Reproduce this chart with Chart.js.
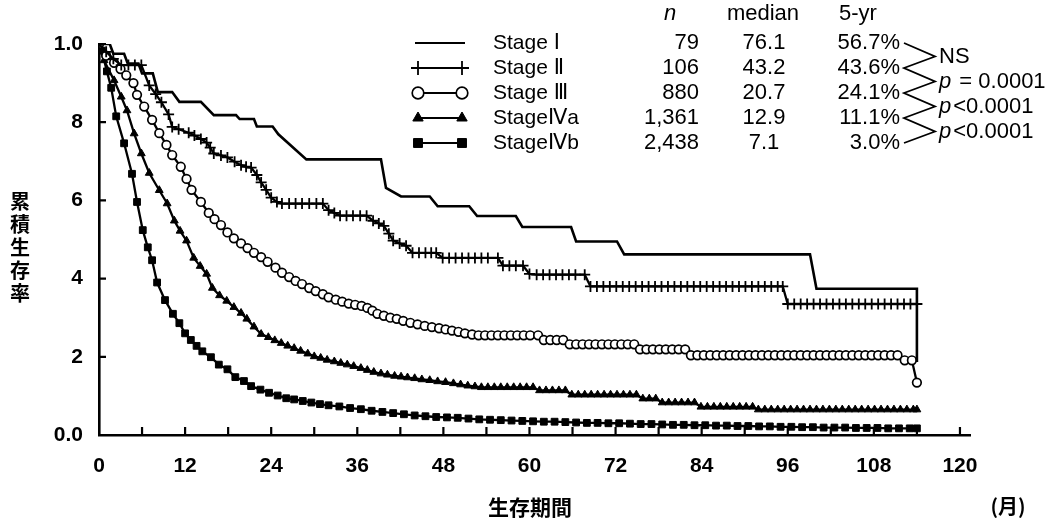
<!DOCTYPE html>
<html>
<head>
<meta charset="utf-8">
<script src="https://cdn.jsdelivr.net/npm/chart.js@4.4.1/dist/chart.umd.min.js"></script>
<style>
  html, body { margin: 0; padding: 0; background: #fff; }
</style>
</head>
<body>
<canvas id="km" width="1062" height="520"></canvas>
<script>
// survival curves: [month, cumulative survival]
const stage1 = [
  [0, 1], [1.5, 1], [2, 0.975], [3.5, 0.975], [4, 0.95], [5.5, 0.95], [6, 0.925], [7.5, 0.925],
  [8.2, 0.877], [10.2, 0.877], [11.2, 0.852], [14.2, 0.852], [16, 0.818], [19.1, 0.818],
  [19.6, 0.808], [21.6, 0.808], [22, 0.789], [24.2, 0.789], [25, 0.769], [28.9, 0.705],
  [39.3, 0.705], [40, 0.632], [42.1, 0.61], [46.1, 0.61], [47.2, 0.585], [51.6, 0.585],
  [52.7, 0.56], [58.1, 0.56], [59, 0.532], [65.8, 0.532], [66.5, 0.495], [72.2, 0.495],
  [73.2, 0.462], [99.1, 0.462], [100, 0.374], [114, 0.374], [114, 0.187]
];

const stage2 = [
  [0, 1], [1, 0.98], [2, 0.962], [3.1, 0.946], [4.1, 0.946], [5, 0.946], [5.9, 0.946],
  [7, 0.894], [7.9, 0.872], [8.7, 0.851], [9.7, 0.82], [10.2, 0.788], [11.1, 0.782],
  [12.5, 0.773], [13.3, 0.766], [14.2, 0.757], [15, 0.748], [15.5, 0.735], [16, 0.72],
  [17, 0.715], [17.9, 0.71], [18.9, 0.699], [19.8, 0.69], [20.5, 0.686], [21.2, 0.684],
  [22, 0.665], [22.6, 0.646], [23.3, 0.627], [24, 0.607], [24.8, 0.596], [25.5, 0.592],
  [26.5, 0.592], [27.4, 0.592], [28.3, 0.592], [29.3, 0.592], [30.3, 0.592], [31.2, 0.592],
  [32, 0.575], [32.8, 0.568], [33.6, 0.561], [34.5, 0.561], [35.4, 0.561], [36.4, 0.561],
  [37.3, 0.561], [38.2, 0.548], [39, 0.541], [39.7, 0.535], [40.4, 0.515], [41, 0.497],
  [41.9, 0.49], [42.8, 0.484], [43.7, 0.466], [44.6, 0.466], [45.5, 0.466], [46.3, 0.466],
  [47, 0.466], [47.9, 0.453], [48.8, 0.453], [49.7, 0.453], [50.6, 0.453], [51.5, 0.453],
  [52.4, 0.453], [53.3, 0.453], [54.2, 0.453], [55.6, 0.453], [56.3, 0.433], [57.2, 0.433],
  [58.1, 0.433], [59.1, 0.433], [60, 0.412], [61, 0.41], [61.9, 0.41], [62.8, 0.41],
  [63.7, 0.41], [64.6, 0.41], [65.5, 0.41], [66.4, 0.41], [67.7, 0.41], [68.5, 0.38],
  [69.4, 0.38], [70.3, 0.38], [71.2, 0.38], [72.1, 0.38], [73, 0.38], [73.9, 0.38],
  [74.8, 0.38], [75.7, 0.38], [76.6, 0.38], [77.5, 0.38], [78.4, 0.38], [79.3, 0.38],
  [80.2, 0.38], [81.1, 0.38], [82, 0.38], [82.9, 0.38], [83.8, 0.38], [84.7, 0.38],
  [85.6, 0.38], [86.5, 0.38], [87.4, 0.38], [88.3, 0.38], [89.2, 0.38], [90.1, 0.38],
  [91, 0.38], [91.9, 0.38], [92.8, 0.38], [93.7, 0.38], [94.6, 0.38], [95.3, 0.38],
  [96, 0.335], [96.9, 0.335], [97.8, 0.335], [98.7, 0.335], [99.6, 0.335], [100.5, 0.335],
  [101.4, 0.335], [102.3, 0.335], [103.2, 0.335], [104.1, 0.335], [105, 0.335], [105.9, 0.335],
  [106.8, 0.335], [107.7, 0.335], [108.6, 0.335], [109.5, 0.335], [110.4, 0.335], [111.3, 0.335],
  [112.2, 0.335], [113.1, 0.335], [114, 0.335]
];

const stage3 = [
  [0, 1], [1, 0.97], [2.1, 0.952], [3, 0.936], [3.8, 0.92], [4.8, 0.9], [5.3, 0.87], [6.3, 0.84],
  [7.4, 0.806], [8.4, 0.772], [9.4, 0.742], [10.2, 0.716], [11.4, 0.686], [12.2, 0.655],
  [12.9, 0.627], [14.2, 0.596], [15.3, 0.568], [16.1, 0.552], [17, 0.537], [17.9, 0.518],
  [18.8, 0.503], [19.8, 0.49], [20.7, 0.478], [21.6, 0.466], [22.6, 0.455], [23.5, 0.443],
  [24.6, 0.428], [25.5, 0.415], [26.5, 0.404], [27.4, 0.394], [28.3, 0.386], [29.3, 0.376],
  [30.2, 0.368], [31.2, 0.36], [32, 0.352], [33, 0.346], [33.9, 0.341], [34.8, 0.336],
  [35.7, 0.333], [36.6, 0.33], [37.4, 0.325], [38.1, 0.318], [38.8, 0.31], [39.7, 0.305],
  [40.6, 0.3], [41.5, 0.297], [42.4, 0.292], [43.4, 0.287], [44.4, 0.283], [45.4, 0.279],
  [46.4, 0.276], [47.4, 0.273], [48.3, 0.27], [49.2, 0.267], [50.1, 0.264], [51, 0.26],
  [52, 0.257], [52.9, 0.255], [53.8, 0.255], [54.7, 0.255], [55.6, 0.255], [56.5, 0.255],
  [57.4, 0.255], [58.3, 0.255], [59.2, 0.255], [60.1, 0.255], [61.2, 0.255], [62, 0.243],
  [62.9, 0.243], [63.8, 0.243], [64.7, 0.243], [65.6, 0.232], [66.5, 0.232], [67.4, 0.232],
  [68.3, 0.232], [69.2, 0.232], [70.1, 0.232], [71, 0.232], [71.9, 0.232], [72.8, 0.232],
  [73.7, 0.232], [74.6, 0.232], [75.4, 0.219], [76.3, 0.219], [77.2, 0.219], [78.1, 0.219],
  [79, 0.219], [79.9, 0.219], [80.8, 0.219], [81.7, 0.219], [82.5, 0.204], [83.4, 0.204],
  [84.3, 0.204], [85.2, 0.204], [86.1, 0.204], [87, 0.204], [87.9, 0.204], [88.8, 0.204],
  [89.7, 0.204], [90.6, 0.204], [91.5, 0.204], [92.4, 0.204], [93.3, 0.204], [94.2, 0.204],
  [95.1, 0.204], [96, 0.204], [96.9, 0.204], [97.8, 0.204], [98.7, 0.204], [99.6, 0.204],
  [100.5, 0.204], [101.4, 0.204], [102.3, 0.204], [103.2, 0.204], [104.1, 0.204], [105, 0.204],
  [105.9, 0.204], [106.8, 0.204], [107.7, 0.204], [108.6, 0.204], [109.5, 0.204], [110.4, 0.204],
  [111.3, 0.204], [112.3, 0.191], [113.3, 0.191], [114, 0.134]
];

const stage4a = [
  [0, 1], [0.7, 0.958], [2.1, 0.907], [3.1, 0.865], [3.9, 0.83], [4.9, 0.771], [5.9, 0.72],
  [7, 0.67], [8.4, 0.626], [9.5, 0.592], [10.5, 0.548], [11.3, 0.522], [12.2, 0.497],
  [13.2, 0.453], [14.1, 0.432], [15, 0.412], [15.8, 0.376], [16.8, 0.357], [17.8, 0.343],
  [18.8, 0.327], [19.8, 0.312], [20.6, 0.297], [21.6, 0.277], [22.6, 0.258], [23.6, 0.25],
  [24.5, 0.242], [25.4, 0.235], [26.3, 0.228], [27.2, 0.222], [28.1, 0.215], [29.1, 0.208],
  [30, 0.201], [30.9, 0.197], [31.8, 0.192], [32.8, 0.188], [33.7, 0.184], [34.6, 0.18],
  [35.5, 0.176], [36.5, 0.171], [37.4, 0.166], [38.3, 0.161], [39.3, 0.157], [40.2, 0.154],
  [41.2, 0.151], [42.1, 0.149], [43, 0.147], [44, 0.145], [45, 0.142], [46.1, 0.14],
  [47.2, 0.137], [48.3, 0.135], [49.4, 0.132], [50.4, 0.129], [51.4, 0.126], [52.4, 0.124],
  [53.3, 0.122], [54.2, 0.122], [55.1, 0.122], [56, 0.122], [56.9, 0.122], [57.8, 0.122],
  [58.7, 0.122], [59.6, 0.122], [60.5, 0.122], [61.4, 0.114], [62.3, 0.114], [63.2, 0.114],
  [64.1, 0.114], [65, 0.114], [65.9, 0.103], [66.8, 0.103], [67.7, 0.103], [68.6, 0.103],
  [69.5, 0.103], [70.4, 0.103], [71.3, 0.103], [72.2, 0.103], [73.1, 0.103], [74, 0.103],
  [74.9, 0.103], [75.8, 0.093], [76.7, 0.093], [77.6, 0.093], [78.5, 0.083], [79.4, 0.083],
  [80.3, 0.083], [81.2, 0.083], [82.1, 0.083], [83, 0.083], [83.9, 0.072], [84.8, 0.072],
  [85.7, 0.072], [86.6, 0.072], [87.5, 0.072], [88.4, 0.072], [89.3, 0.072], [90.2, 0.072],
  [91.1, 0.072], [91.9, 0.065], [92.8, 0.065], [93.7, 0.065], [94.6, 0.065], [95.5, 0.065],
  [96.4, 0.065], [97.3, 0.065], [98.2, 0.065], [99.1, 0.065], [100, 0.065], [100.9, 0.065],
  [101.8, 0.065], [102.7, 0.065], [103.6, 0.065], [104.5, 0.065], [105.4, 0.065], [106.3, 0.065],
  [107.2, 0.065], [108.1, 0.065], [109, 0.065], [109.9, 0.065], [110.8, 0.065], [111.7, 0.065],
  [112.6, 0.065], [113.5, 0.065], [114, 0.065]
];

const stage4b = [
  [0, 1], [0.4, 0.983], [1.1, 0.93], [1.7, 0.888], [2.4, 0.815], [3.5, 0.746], [4.6, 0.668],
  [5.3, 0.596], [6.1, 0.524], [6.8, 0.48], [7.4, 0.447], [8.1, 0.39], [9.2, 0.345], [10.3, 0.31],
  [11.2, 0.286], [12, 0.26], [12.8, 0.243], [13.6, 0.228], [14.4, 0.214], [15.6, 0.199],
  [16.7, 0.18], [17.9, 0.168], [19, 0.148], [20.2, 0.138], [21.2, 0.125], [22.5, 0.116],
  [23.7, 0.108], [24.9, 0.101], [26.1, 0.094], [27.2, 0.091], [28.4, 0.087], [29.6, 0.083],
  [30.8, 0.079], [32, 0.076], [33.5, 0.073], [35, 0.069], [36.5, 0.066], [38, 0.062],
  [39.5, 0.059], [41, 0.056], [42.5, 0.053], [44, 0.05], [45.5, 0.048], [47, 0.046],
  [48.5, 0.045], [50, 0.044], [51.5, 0.042], [53, 0.04], [54.5, 0.039], [56, 0.038],
  [57.5, 0.037], [59, 0.036], [60.5, 0.035], [62, 0.034], [63.5, 0.034], [65, 0.033],
  [66.5, 0.032], [68, 0.031], [69.5, 0.031], [71, 0.03], [72.5, 0.03], [74, 0.029],
  [75.5, 0.028], [77, 0.028], [78.5, 0.027], [80, 0.026], [81.5, 0.026], [83, 0.025],
  [84.5, 0.025], [86, 0.024], [87.5, 0.024], [89, 0.023], [90.5, 0.023], [92, 0.022],
  [93.5, 0.022], [95, 0.021], [96.5, 0.021], [98, 0.02], [99.5, 0.02], [101, 0.019],
  [102.5, 0.019], [104, 0.019], [105.5, 0.018], [107, 0.018], [108.5, 0.018], [110, 0.017],
  [111.5, 0.017], [113, 0.017], [114, 0.017]
];

// legend table
const stageLabels = ['Stage Ⅰ', 'Stage Ⅱ', 'Stage Ⅲ', 'StageⅣa', 'StageⅣb'];
const nValues = ['79', '106', '880', '1,361', '2,438'];
const medians = ['76.1', '43.2', '20.7', '12.9', '7.1'];
const fiveYear = ['56.7%', '43.6%', '24.1%', '11.1%', '3.0%'];
const pLabels = [['', 'NS'], ['p', ' = 0.0001'], ['p', '<0.0001'], ['p', '<0.0001']];

// axis ticks
const xTickValues = [0, 12, 24, 36, 48, 60, 72, 84, 96, 108, 120];
const xMinorStep = 6;
const xMax = 121.4;

const markerStyles = [
  { pointStyle: 'circle', radius: 0, borderWidth: 0, fill: '#000' },
  { pointStyle: 'cross', radius: 5.5, borderWidth: 1.8, fill: '#000' },
  { pointStyle: 'circle', radius: 4.3, borderWidth: 1.7, fill: '#fff' },
  { pointStyle: 'triangle', radius: 4.5, borderWidth: 1, fill: '#000' },
  { pointStyle: 'rect', radius: 4.8, borderWidth: 1, fill: '#000' }
];

const seriesData = [stage1, stage2, stage3, stage4a, stage4b];

const textFont = "'Liberation Sans', 'DejaVu Sans', 'Noto Sans CJK JP', sans-serif";
const cjkFont = "'Noto Sans CJK JP', sans-serif";

const kmDecor = {
  id: 'kmDecor',
  afterDraw(chart) {
    const { ctx, chartArea, scales: { x, y } } = chart;
    const drawPoint = Chart.helpers.drawPoint;
    ctx.save();
    ctx.strokeStyle = '#000';
    ctx.fillStyle = '#000';

    // inward tick marks
    ctx.lineWidth = 2.2;
    ctx.beginPath();
    for (let m = xMinorStep; m <= 120; m += xMinorStep) {
      const px = x.getPixelForValue(m);
      ctx.moveTo(px, chartArea.bottom);
      ctx.lineTo(px, chartArea.bottom - 8);
    }
    y.ticks.forEach((t) => {
      if (t.value <= 0) return;
      const py = y.getPixelForValue(t.value);
      ctx.moveTo(chartArea.left, py);
      ctx.lineTo(chartArea.left + 7, py);
    });
    ctx.stroke();

    // axis titles
    ctx.font = 'bold 20px ' + cjkFont;
    ctx.textAlign = 'center';
    ctx.textBaseline = 'middle';
    Array.from('累積生存率').forEach((ch, i) => ctx.fillText(ch, 20, 201 + i * 23));
    ctx.font = 'bold 21px ' + cjkFont;
    ctx.fillText('生存期間', 530, 507);
    ctx.font = 'bold 20px ' + cjkFont;
    ctx.fillText('(月)', 1008, 506);

    // legend table
    const rowY = [43, 68, 93, 118, 143];
    const numFont = '22px ' + textFont;
    ctx.textBaseline = 'middle';
    ctx.font = 'italic 22px ' + textFont;
    ctx.fillText('n', 670, 14);
    ctx.font = numFont;
    ctx.fillText('median', 763, 14);
    ctx.textAlign = 'left';
    ctx.fillText('5-yr', 839, 14);

    rowY.forEach((ry, i) => {
      const st = markerStyles[i];
      ctx.lineWidth = 2;
      ctx.beginPath();
      ctx.moveTo(415, ry);
      ctx.lineTo(465, ry);
      ctx.stroke();
      if (st.radius > 0) {
        ctx.fillStyle = st.fill;
        ctx.lineWidth = st.borderWidth;
        const opts = { pointStyle: st.pointStyle, radius: st.radius + 1.5, borderWidth: st.borderWidth, rotation: 0 };
        drawPoint(ctx, opts, 418, ry);
        drawPoint(ctx, opts, 462, ry);
      }
      ctx.fillStyle = '#000';
      ctx.textAlign = 'left';
      ctx.font = '21px ' + textFont;
      ctx.fillText(stageLabels[i], 493, ry);
      ctx.font = numFont;
      ctx.textAlign = 'right';
      ctx.fillText(nValues[i], 699, ry);
      ctx.textAlign = 'center';
      ctx.fillText(medians[i], 764, ry);
      ctx.textAlign = 'right';
      ctx.fillText(fiveYear[i], 900, ry);
    });

    // comparison zigzag and p values
    ctx.lineWidth = 1.8;
    ctx.beginPath();
    rowY.forEach((ry, i) => {
      if (i === 0) ctx.moveTo(904, ry); else ctx.lineTo(904, ry);
      if (i < rowY.length - 1) ctx.lineTo(935, (ry + rowY[i + 1]) / 2 + 1);
    });
    ctx.stroke();
    ctx.textAlign = 'left';
    pLabels.forEach(([pre, rest], i) => {
      const ly = (rowY[i] + rowY[i + 1]) / 2 + 1;
      let lx = 939;
      if (pre) {
        ctx.font = 'italic 22px ' + textFont;
        ctx.fillText(pre, lx, ly);
        lx += ctx.measureText(pre).width + 2;
      }
      ctx.font = numFont;
      ctx.fillText(rest, lx, ly);
    });

    ctx.restore();
  }
};

new Chart(document.getElementById('km'), {
  type: 'line',
  data: {
    datasets: seriesData.map((d, i) => ({
      data: d,
      borderColor: '#000',
      borderWidth: i === 0 ? 2.6 : 2.3,
      pointStyle: markerStyles[i].pointStyle,
      pointRadius: markerStyles[i].radius,
      pointBorderWidth: markerStyles[i].borderWidth,
      pointBackgroundColor: markerStyles[i].fill,
      pointBorderColor: '#000',
      tension: 0,
      fill: false
    }))
  },
  options: {
    responsive: false,
    animation: false,
    layout: { padding: { top: 44, right: 92, bottom: 0, left: 0 } },
    plugins: { legend: { display: false }, tooltip: { enabled: false } },
    scales: {
      x: {
        type: 'linear',
        min: 0,
        max: xMax,
        afterFit: (s) => { s.height = 85; },
        afterBuildTicks: (s) => { s.ticks = xTickValues.map((v) => ({ value: v })); },
        grid: { display: false, drawTicks: false },
        border: { display: true, color: '#000', width: 2.6 },
        ticks: {
          padding: 19,
          maxRotation: 0,
          autoSkip: false,
          color: '#000',
          font: { family: textFont, size: 21, weight: 'bold' }
        }
      },
      y: {
        min: 0,
        max: 1,
        afterFit: (s) => { s.width = 99; },
        grid: { display: false, drawTicks: false },
        border: { display: true, color: '#000', width: 2.6 },
        ticks: {
          stepSize: 0.2,
          padding: 16,
          color: '#000',
          font: { family: textFont, size: 21, weight: 'bold' },
          callback: (v) => {
            const k = Math.round(v * 10);
            if (k === 0) return '0.0';
            if (k === 10) return '1.0';
            return String(k);
          }
        }
      }
    }
  },
  plugins: [kmDecor]
});
</script>
</body>
</html>
